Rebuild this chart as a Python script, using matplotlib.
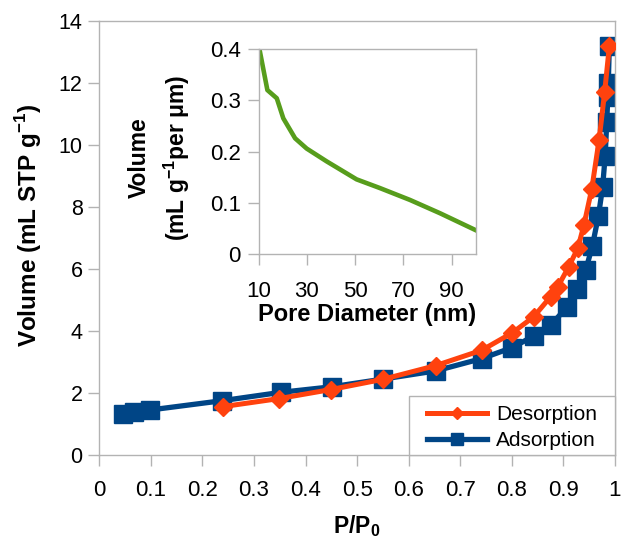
import matplotlib
matplotlib.use("Agg")
import matplotlib.pyplot as plt
from matplotlib.patches import Rectangle

plt.rcParams['font.family'] = ['Liberation Sans', 'DejaVu Sans']
plt.rcParams['mathtext.fontset'] = 'custom'
plt.rcParams['mathtext.rm'] = 'Liberation Sans'
plt.rcParams['mathtext.bf'] = 'Liberation Sans:bold'

# Main isotherm data
ads_x = [0.045, 0.068, 0.098, 0.238, 0.352, 0.451, 0.551, 0.652, 0.742, 0.800,
         0.842, 0.875, 0.907, 0.926, 0.943, 0.956, 0.968, 0.976, 0.981, 0.984,
         0.986, 0.987, 0.989]
ads_y = [1.31, 1.39, 1.45, 1.75, 2.02, 2.20, 2.45, 2.71, 3.11, 3.46,
         3.83, 4.18, 4.77, 5.35, 5.95, 6.73, 7.72, 8.64, 9.65, 10.73,
         11.53, 11.98, 13.17]

des_x = [0.240, 0.349, 0.449, 0.550, 0.652, 0.742, 0.801, 0.842, 0.875, 0.889,
         0.910, 0.928, 0.940, 0.955, 0.969, 0.980, 0.989]
des_y = [1.56, 1.82, 2.11, 2.44, 2.88, 3.38, 3.94, 4.45, 5.10, 5.42,
         6.06, 6.67, 7.43, 8.58, 10.14, 11.71, 13.17]

# Inset pore size distribution
pore_d = [10.3, 13.6, 17.5, 20.2, 25.1, 29.9, 38.2, 50.6, 60.3, 72.7, 85.2, 100]
pore_v = [0.400, 0.320, 0.304, 0.265, 0.226, 0.206, 0.181, 0.146, 0.129, 0.106, 0.080, 0.047]

x_ticks = [0, 0.1, 0.2, 0.3, 0.4, 0.5, 0.6, 0.7, 0.8, 0.9, 1]
x_tick_labels = ['0', '0.1', '0.2', '0.3', '0.4', '0.5', '0.6', '0.7', '0.8', '0.9', '1']
y_ticks = [0, 2, 4, 6, 8, 10, 12, 14]
inset_x_ticks = [10, 30, 50, 70, 90]
inset_y_ticks = [0, 0.1, 0.2, 0.3, 0.4]
inset_y_labels = ['0', '0.1', '0.2', '0.3', '0.4']

BLUE = '#004586'
ORANGE = '#ff420e'
GREEN = '#579d1c'
GREY = '#b3b3b3'

W, H = 621, 544
fig = plt.figure(figsize=(W/100, H/100), dpi=100)
ax = fig.add_axes([99.3/W, 1-455/H, (615-99.3)/W, (455-20.7)/H])

ax.plot(ads_x, ads_y, color=BLUE, lw=3.8, marker='s', ms=13.5, mec=BLUE,
        label='Adsorption', zorder=2)
ax.plot(des_x, des_y, color=ORANGE, lw=3.6, marker='D', ms=9.5, mec=ORANGE,
        label='Desorption', zorder=3)

ax.set_xlim(0, 1)
ax.set_ylim(0, 14)
ax.set_xticks(x_ticks)
ax.set_xticklabels(x_tick_labels)
ax.set_yticks(y_ticks)
for s in ax.spines.values():
    s.set_color(GREY)
    s.set_linewidth(1.0)
ax.tick_params(axis='both', colors=GREY, labelcolor='black',
               length=8, width=1.0, direction='out')
ax.tick_params(axis='x', pad=10, labelsize=16)
ax.tick_params(axis='y', pad=4, labelsize=15.5)

fig.text(357/W, 1-526/H, 'P/P$_\\mathbf{0}$', fontsize=16.5, fontweight='bold',
         ha='center', va='center')
fig.text(29/W, 1-225/H, 'Volume (mL STP g$^\\mathbf{-1}$)', fontsize=17.5,
         fontweight='bold', rotation=90, ha='center', va='center')

# Legend with a manually drawn frame
handles, labels = ax.get_legend_handles_labels()
leg_fs = 15
leg_left_px = 426.6 - 0.25 * leg_fs * 100 / 72
leg = ax.legend(handles[::-1], labels[::-1], loc='lower left',
                bbox_to_anchor=((leg_left_px - 99.3) / (615 - 99.3), 0.0),
                borderaxespad=0, frameon=False,
                fontsize=leg_fs, handlelength=2.9, handletextpad=0.42, markerscale=0.6,
                borderpad=0.25, labelspacing=0.33)
frame_x0 = (408.5 - 99.3) / (615 - 99.3)
frame_h = (455 - 396) / (455 - 20.7)
ax.add_patch(Rectangle((frame_x0, 0), 1 - frame_x0, frame_h, transform=ax.transAxes,
                       facecolor='white', edgecolor=GREY, lw=1.0, zorder=4, clip_on=False))
leg.set_zorder(5)

# Inset
ins = fig.add_axes([258.7/W, 1-254.3/H, (475.7-258.7)/W, (254.3-49)/H])
ins.plot(pore_d, pore_v, color=GREEN, lw=3.3, solid_joinstyle='round')
ins.set_xlim(10, 100)
ins.set_ylim(0, 0.4)
ins.set_xticks(inset_x_ticks)
ins.set_yticks(inset_y_ticks)
ins.set_yticklabels(inset_y_labels)
for s in ins.spines.values():
    s.set_color(GREY)
    s.set_linewidth(1.0)
ins.tick_params(axis='both', colors=GREY, labelcolor='black', labelsize=16,
                length=8, width=1.0, direction='out')
ins.tick_params(axis='x', pad=11)
ins.tick_params(axis='y', pad=5)
fig.text(367/W, 1-315/H, 'Pore Diameter (nm)', fontsize=17, fontweight='bold',
         ha='center', va='center')
fig.text(160/W, 1-158/H, 'Volume\n(mL g$^\\mathbf{-1}$per μm)', fontsize=16.5,
         fontweight='bold', rotation=90, ha='center', va='center',
         multialignment='center', linespacing=1.45)

fig.savefig('out.png', dpi=100)
